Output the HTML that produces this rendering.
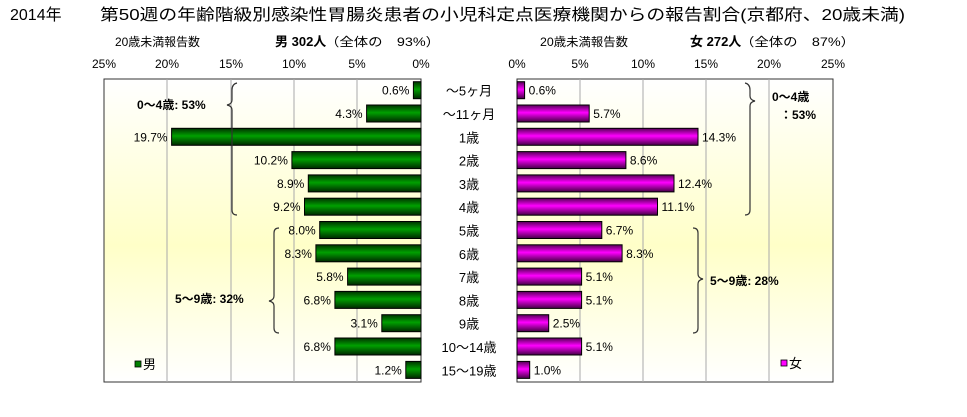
<!DOCTYPE html>
<html><head><meta charset="utf-8"><style>
html,body{margin:0;padding:0;background:#fff;}
svg{display:block;font-family:"Liberation Sans","Noto Sans CJK JP",sans-serif;}
</style></head><body>
<svg width="967" height="417" viewBox="0 0 967 417" xmlns="http://www.w3.org/2000/svg">
<defs>
<linearGradient id="bg" x1="0" y1="0" x2="0" y2="1">
<stop offset="0" stop-color="#ffffff"/><stop offset="0.55" stop-color="#ffffc8"/><stop offset="1" stop-color="#ffffff"/>
</linearGradient>
<linearGradient id="gr" x1="0" y1="0" x2="0" y2="1">
<stop offset="0" stop-color="#003300"/><stop offset="0.45" stop-color="#00a000"/><stop offset="1" stop-color="#002800"/>
</linearGradient>
<linearGradient id="mg" x1="0" y1="0" x2="0" y2="1">
<stop offset="0" stop-color="#550055"/><stop offset="0.45" stop-color="#ff00ff"/><stop offset="1" stop-color="#440044"/>
</linearGradient>
</defs>
<text x="10" y="20" font-size="16">2014年</text>
<text x="100" y="20" font-size="16" textLength="805" lengthAdjust="spacingAndGlyphs">第50週の年齢階級別感染性胃腸炎患者の小児科定点医療機関からの報告割合(京都府、20歳未満)</text>
<text x="115" y="46" font-size="12" textLength="85" lengthAdjust="spacingAndGlyphs">20歳未満報告数</text>
<text x="275" y="46" font-size="13" font-weight="bold">男 302人</text>
<text x="325" y="46" font-size="12" textLength="115" lengthAdjust="spacingAndGlyphs">（全体の　93%）</text>
<text x="540" y="46" font-size="12" textLength="88" lengthAdjust="spacingAndGlyphs">20歳未満報告数</text>
<text x="690" y="46" font-size="13" font-weight="bold">女 272人</text>
<text x="740" y="46" font-size="12" textLength="115" lengthAdjust="spacingAndGlyphs">（全体の　87%）</text>

<rect x="104" y="79" width="317" height="303" fill="url(#bg)" stroke="#333"/>
<g stroke="#aaa"><line x1="167" y1="79" x2="167" y2="382"/><line x1="231" y1="79" x2="231" y2="382"/><line x1="294" y1="79" x2="294" y2="382"/><line x1="357" y1="79" x2="357" y2="382"/></g>
<g font-size="12" text-anchor="middle">
<text x="104" y="68">25%</text><text x="167" y="68">20%</text><text x="231" y="68">15%</text><text x="294" y="68">10%</text><text x="357" y="68">5%</text><text x="421" y="68">0%</text>
<text x="517" y="68">0%</text><text x="580" y="68">5%</text><text x="643" y="68">10%</text><text x="706" y="68">15%</text><text x="769" y="68">20%</text><text x="833" y="68">25%</text>
</g>
<rect x="517" y="79" width="316" height="303" fill="url(#bg)" stroke="#333"/>
<g stroke="#aaa"><line x1="580" y1="79" x2="580" y2="382"/><line x1="643" y1="79" x2="643" y2="382"/><line x1="706" y1="79" x2="706" y2="382"/><line x1="769" y1="79" x2="769" y2="382"/></g>

<g stroke="#000" fill="url(#gr)">
<rect x="413.4" y="81.7" width="7.6" height="17"/>
<rect x="366.6" y="105" width="54.4" height="17"/>
<rect x="171.6" y="128.3" width="249.4" height="17"/>
<rect x="291.9" y="151.6" width="129.1" height="17"/>
<rect x="308.3" y="174.9" width="112.7" height="17"/>
<rect x="304.5" y="198.2" width="116.5" height="17"/>
<rect x="319.7" y="221.5" width="101.3" height="17"/>
<rect x="315.9" y="244.8" width="105.1" height="17"/>
<rect x="347.6" y="268.1" width="73.4" height="17"/>
<rect x="334.9" y="291.4" width="86.1" height="17"/>
<rect x="381.8" y="314.7" width="39.2" height="17"/>
<rect x="334.9" y="338" width="86.1" height="17"/>
<rect x="405.8" y="361.4" width="15.2" height="17"/>
</g>
<g font-size="12" text-anchor="end">
<text x="409.4" y="94.7">0.6%</text>
<text x="362.6" y="118">4.3%</text>
<text x="167.6" y="141.3">19.7%</text>
<text x="287.9" y="164.6">10.2%</text>
<text x="304.3" y="187.9">8.9%</text>
<text x="300.5" y="211.2">9.2%</text>
<text x="315.7" y="234.5">8.0%</text>
<text x="311.9" y="257.8">8.3%</text>
<text x="343.6" y="281.1">5.8%</text>
<text x="330.9" y="304.4">6.8%</text>
<text x="377.8" y="327.7">3.1%</text>
<text x="330.9" y="351">6.8%</text>
<text x="401.8" y="374.4">1.2%</text>
</g>
<g stroke="#000" fill="url(#mg)">
<rect x="517" y="81.7" width="7.6" height="17"/>
<rect x="517" y="105" width="72.2" height="17"/>
<rect x="517" y="128.3" width="181" height="17"/>
<rect x="517" y="151.6" width="108.9" height="17"/>
<rect x="517" y="174.9" width="157" height="17"/>
<rect x="517" y="198.2" width="140.5" height="17"/>
<rect x="517" y="221.5" width="84.8" height="17"/>
<rect x="517" y="244.8" width="105.1" height="17"/>
<rect x="517" y="268.1" width="64.6" height="17"/>
<rect x="517" y="291.4" width="64.6" height="17"/>
<rect x="517" y="314.7" width="31.7" height="17"/>
<rect x="517" y="338" width="64.6" height="17"/>
<rect x="517" y="361.4" width="12.7" height="17"/>
</g>
<g font-size="12">
<text x="528.6" y="94.7">0.6%</text>
<text x="593.2" y="118">5.7%</text>
<text x="702" y="141.3">14.3%</text>
<text x="629.9" y="164.6">8.6%</text>
<text x="678" y="187.9">12.4%</text>
<text x="661.5" y="211.2">11.1%</text>
<text x="605.8" y="234.5">6.7%</text>
<text x="626.1" y="257.8">8.3%</text>
<text x="585.6" y="281.1">5.1%</text>
<text x="585.6" y="304.4">5.1%</text>
<text x="552.7" y="327.7">2.5%</text>
<text x="585.6" y="351">5.1%</text>
<text x="533.7" y="374.4">1.0%</text>
</g>
<g font-size="13" text-anchor="middle">
<text x="469" y="95.7">～5ヶ月</text>
<text x="469" y="119">～11ヶ月</text>
<text x="469" y="142.3">1歳</text>
<text x="469" y="165.6">2歳</text>
<text x="469" y="188.9">3歳</text>
<text x="469" y="212.2">4歳</text>
<text x="469" y="235.5">5歳</text>
<text x="469" y="258.8">6歳</text>
<text x="469" y="282.1">7歳</text>
<text x="469" y="305.4">8歳</text>
<text x="469" y="328.7">9歳</text>
<text x="469" y="352">10～14歳</text>
<text x="469" y="375.4">15～19歳</text>
</g>
<g fill="none" stroke="#333" stroke-width="1.2">
<path d="M237,83 Q232,84 232,90 L232,100 Q232,104 227,105 Q232,106 232,110 L232,210 Q232,215 237,215"/>
<path d="M279,228 Q274,228 274,233 L274,296 Q274,300 269,301 Q274,302 274,306 L274,328 Q274,333 279,333"/>
<path d="M745,83 Q750,84 750,90 L750,96 Q750,100 755,101 Q750,102 750,106 L750,210 Q750,215 745,215"/>
<path d="M693,228 Q698,228 698,233 L698,274 Q698,278 703,279 Q698,280 698,284 L698,328 Q698,333 693,333"/>
</g>
<g font-size="12" font-weight="bold">
<text x="137" y="109">0～4歳: 53%</text>
<text x="175" y="303">5～9歳: 32%</text>
<text x="772" y="101">0～4歳</text>
<text x="780" y="119">：53%</text>
<text x="710" y="285">5～9歳: 28%</text>
</g>
<rect x="135" y="361" width="6" height="6" fill="#008000" stroke="#000" stroke-width="0.8"/>
<text x="143" y="369" font-size="13">男</text>
<rect x="781" y="360" width="6" height="6" fill="#ff00ff" stroke="#000" stroke-width="0.8"/>
<text x="789" y="368" font-size="13">女</text>
</svg>
</body></html>
